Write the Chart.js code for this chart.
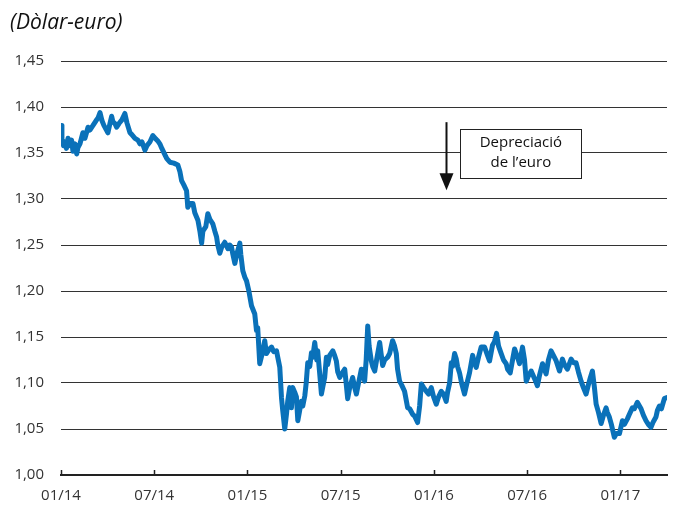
<!DOCTYPE html>
<html>
<head>
<meta charset="utf-8">
<script src="https://cdn.jsdelivr.net/npm/chart.js@4"></script>
<style>
html,body{margin:0;padding:0;background:#fff;}
#wrap{width:680px;height:507px;position:relative;}
</style>
</head>
<body>
<div id="wrap"><canvas id="c" width="680" height="507"></canvas></div>
<script>
// Months elapsed since January 2014 (x position of each observation)
const months = [
0,0.06,0.16,0.26,0.35,0.45,0.58,0.68,0.77,0.90,1.01,1.09,1.22,1.41,1.54,1.74,1.86,2.06,2.25,2.38,
2.51,2.64,2.76,2.89,3.02,3.15,3.26,3.34,3.47,3.58,3.73,3.92,4.11,4.24,4.44,4.56,4.76,4.95,5.08,5.21,
5.40,5.53,5.72,5.91,6.11,6.24,6.36,6.49,6.69,6.81,7.01,7.26,7.52,7.65,7.76,7.91,8.08,8.16,8.29,8.49,
8.61,8.81,8.94,9.05,9.13,9.32,9.45,9.58,9.77,9.90,10.01,10.09,10.22,10.35,10.54,10.74,10.86,10.97,11.06,11.19,
11.31,11.51,11.57,11.70,11.83,11.94,12.09,12.26,12.47,12.58,12.66,12.79,12.92,13.11,13.22,13.37,13.55,13.69,13.87,13.95,
14.08,14.19,14.27,14.40,14.51,14.59,14.72,14.83,14.91,15.04,15.15,15.24,15.36,15.47,15.56,15.69,15.78,15.88,16.01,16.12,
16.20,16.33,16.46,16.52,16.65,16.76,16.84,16.97,17.08,17.16,17.29,17.49,17.61,17.72,17.81,17.94,18.06,18.26,18.35,18.45,
18.58,18.77,18.90,19.01,19.09,19.33,19.41,19.54,19.64,19.74,19.83,19.97,20.06,20.19,20.31,20.51,20.60,20.70,20.83,21.02,
21.15,21.34,21.47,21.58,21.66,21.79,21.92,22.11,22.21,22.31,22.44,22.63,22.76,22.95,23.08,23.19,23.34,23.51,23.66,23.83,
23.98,24.15,24.30,24.47,24.62,24.79,24.88,25.01,25.12,25.20,25.33,25.44,25.52,25.65,25.78,25.97,26.10,26.29,26.49,26.61,
26.72,26.87,27.04,27.26,27.45,27.58,27.77,27.90,28.03,28.16,28.33,28.48,28.65,28.74,28.91,29.06,29.19,29.38,29.51,29.70,
29.83,29.94,30.09,30.26,30.47,30.66,30.79,30.99,31.11,31.22,31.37,31.54,31.69,31.87,32.08,32.27,32.40,32.59,32.83,32.98,
33.15,33.30,33.47,33.62,33.79,33.94,34.07,34.20,34.33,34.44,34.59,34.76,34.91,35.08,35.16,35.29,35.42,35.61,35.74,35.94,
36.13,36.26,36.45,36.58,36.77,36.90,37.09,37.33,37.48,37.65,37.80,37.97,38.12,38.29,38.38,38.51,38.64,38.83,38.96
];
// Dollars per euro
const usdPerEur = [
1.380,1.365,1.358,1.362,1.355,1.366,1.358,1.364,1.352,1.360,1.349,1.356,1.360,1.372,1.366,1.378,1.375,1.380,1.385,1.388,
1.394,1.385,1.380,1.376,1.372,1.382,1.390,1.384,1.382,1.378,1.382,1.386,1.393,1.383,1.372,1.370,1.366,1.364,1.360,1.362,
1.353,1.358,1.362,1.369,1.365,1.363,1.360,1.355,1.348,1.344,1.340,1.339,1.337,1.330,1.320,1.315,1.309,1.291,1.295,1.295,
1.285,1.277,1.265,1.252,1.265,1.270,1.284,1.278,1.273,1.265,1.259,1.250,1.241,1.248,1.253,1.246,1.250,1.248,1.240,1.230,
1.240,1.252,1.240,1.222,1.215,1.211,1.200,1.184,1.175,1.157,1.160,1.121,1.130,1.146,1.132,1.136,1.139,1.134,1.135,1.128,
1.117,1.084,1.070,1.050,1.066,1.080,1.095,1.073,1.095,1.090,1.085,1.059,1.070,1.080,1.075,1.086,1.100,1.122,1.118,1.133,
1.128,1.144,1.125,1.135,1.110,1.088,1.095,1.106,1.128,1.120,1.130,1.135,1.130,1.124,1.112,1.106,1.110,1.115,1.100,1.083,
1.095,1.106,1.095,1.088,1.095,1.115,1.110,1.102,1.125,1.162,1.140,1.124,1.118,1.113,1.125,1.144,1.132,1.119,1.125,1.128,
1.132,1.146,1.140,1.132,1.115,1.102,1.098,1.091,1.082,1.073,1.072,1.066,1.064,1.057,1.075,1.099,1.095,1.091,1.088,1.095,
1.085,1.077,1.085,1.091,1.088,1.080,1.090,1.100,1.122,1.118,1.132,1.126,1.118,1.111,1.100,1.088,1.098,1.111,1.130,1.122,
1.117,1.128,1.139,1.139,1.130,1.124,1.141,1.145,1.154,1.140,1.132,1.125,1.121,1.115,1.111,1.125,1.137,1.128,1.121,1.139,
1.125,1.102,1.108,1.113,1.105,1.097,1.108,1.121,1.115,1.110,1.125,1.135,1.130,1.124,1.113,1.126,1.120,1.115,1.126,1.122,
1.122,1.112,1.102,1.095,1.088,1.098,1.106,1.113,1.095,1.077,1.068,1.056,1.065,1.073,1.068,1.063,1.055,1.041,1.045,1.045,
1.059,1.055,1.061,1.066,1.073,1.072,1.079,1.072,1.065,1.059,1.055,1.052,1.058,1.063,1.070,1.075,1.072,1.083,1.084
];
const tickMonths = [0,6,12,18,24,30,36];
const tickLabels = ['01/14','07/14','01/15','07/15','01/16','07/16','01/17'];
const titleText = '(Dòlar-euro)';
const noteLines = ['Depreciació', 'de l\u2019euro'];

const FONT = '"Open Sans", "Noto Sans", sans-serif';

const extras = {
  id: 'extras',
  afterDraw(chart) {
    const ctx = chart.ctx, x = chart.scales.x, y = chart.scales.y;
    ctx.save();
    // title
    ctx.fillStyle = '#111';
    ctx.font = 'italic 21px ' + FONT;
    ctx.textBaseline = 'alphabetic';
    ctx.textAlign = 'left';
    ctx.fillText(titleText, 10, 29);
    // upward tick marks on x axis
    ctx.strokeStyle = '#222';
    ctx.lineWidth = 1.5;
    const b = chart.chartArea.bottom;
    tickMonths.forEach(m => {
      const px = Math.round(x.getPixelForValue(m)) + 0.5;
      ctx.beginPath(); ctx.moveTo(px, b); ctx.lineTo(px, b - 5); ctx.stroke();
    });
    // annotation arrow
    const ax = Math.round(x.getPixelForValue(24.75)) + 0.5;
    const aTop = y.getPixelForValue(1.3835), aTip = y.getPixelForValue(1.3094);
    ctx.strokeStyle = '#111'; ctx.lineWidth = 2;
    ctx.beginPath(); ctx.moveTo(ax, aTop); ctx.lineTo(ax, aTip - 12); ctx.stroke();
    ctx.fillStyle = '#111';
    ctx.beginPath(); ctx.moveTo(ax - 7, aTip - 17); ctx.lineTo(ax + 7, aTip - 17); ctx.lineTo(ax, aTip); ctx.closePath(); ctx.fill();
    // annotation box
    const bl = x.getPixelForValue(25.69), br = x.getPixelForValue(33.5);
    const bt = y.getPixelForValue(1.3759), bb = y.getPixelForValue(1.3225);
    ctx.fillStyle = '#fff';
    ctx.fillRect(bl, bt, br - bl, bb - bt);
    ctx.strokeStyle = '#222'; ctx.lineWidth = 1;
    ctx.strokeRect(Math.round(bl) + 0.5, Math.round(bt) + 0.5, Math.round(br - bl), Math.round(bb - bt));
    ctx.fillStyle = '#111';
    ctx.font = '15px ' + FONT;
    ctx.textAlign = 'center'; ctx.textBaseline = 'middle';
    const cx = (bl + br) / 2;
    ctx.fillText(noteLines[0], cx, bt + 14);
    ctx.fillText(noteLines[1], cx, bt + 34);
    ctx.restore();
  }
};

new Chart(document.getElementById('c'), {
  type: 'line',
  data: {
    datasets: [{
      data: months.map((m, i) => ({x: m, y: usdPerEur[i]})),
      borderColor: '#0a71b9',
      borderWidth: 5,
      pointRadius: 0,
      tension: 0,
      borderJoinStyle: 'round',
      borderCapStyle: 'round',
      fill: false
    }]
  },
  options: {
    responsive: false,
    animation: false,
    layout: { padding: { top: 61, right: 13, left: 0, bottom: 0 } },
    plugins: { legend: { display: false }, tooltip: { enabled: false }, title: { display: false } },
    scales: {
      x: {
        type: 'linear', min: 0, max: 39,
        afterBuildTicks: s => { s.ticks = tickMonths.map(v => ({ value: v })); },
        afterFit: s => { s.height = 32; },
        grid: { display: false, drawTicks: false },
        border: { display: true, color: '#222', width: 2 },
        ticks: {
          autoSkip: false, maxRotation: 0, padding: 12,
          color: '#333', font: { family: FONT, size: 15 },
          callback: v => tickLabels[tickMonths.indexOf(v)]
        }
      },
      y: {
        min: 1.0, max: 1.45,
        afterFit: s => { s.width = 61; },
        grid: { color: '#333', lineWidth: 1, drawTicks: false },
        border: { display: false },
        ticks: {
          stepSize: 0.05, padding: 17,
          color: '#333', font: { family: FONT, size: 15 },
          callback: v => v.toFixed(2).replace('.', ',')
        }
      }
    }
  },
  plugins: [extras]
});
</script>
</body>
</html>
